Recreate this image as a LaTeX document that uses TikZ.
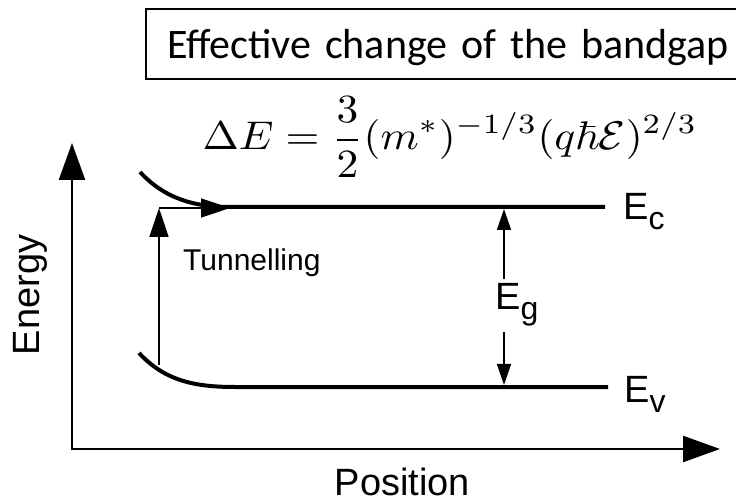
\documentclass[tikz,border=0pt]{standalone}
\usepackage{amsmath,amssymb}
\usepackage{graphicx}
\usepackage[no-math]{fontspec}
\setmainfont{Liberation Sans}
\newfontfamily\titlefont{Carlito}
\usetikzlibrary{arrows.meta,positioning}

\newcommand{\bandlabel}[1]{E\raisebox{-10pt}{\fontsize{32}{32}\selectfont #1}}

\begin{document}
\begin{tikzpicture}[
    x=1pt, y=-1pt,
    axis/.style={line width=2.4pt, {Triangle[length=37pt, width=26pt]}-{Triangle[length=37pt, width=26pt]}},
    band/.style={line width=4pt},
    tunarrow/.style={line width=1.8pt, -{Triangle[length=29pt, width=19pt]}},
    gaparrow/.style={line width=1.6pt, -{Triangle[length=21pt, width=14pt]}},
    label/.style={font=\fontsize{38}{40}\selectfont, inner sep=0pt}
]
\useasboundingbox (0,0) rectangle (736,502);

\node[draw, line width=2pt, font=\titlefont\fontsize{42}{48}\selectfont, text width=620pt, inner xsep=21pt, align=left, text height=30pt, text depth=0pt, minimum height=70pt, anchor=west] (title) at (145,44) {Effective change of the bandgap};
\node[anchor=base] (formula) at (450,150) {\scalebox{4.35}[4]{$\displaystyle \Delta E=\frac{3}{2}(m^*)^{-1/3}(q\hbar\mathcal{E})^{2/3}$}};

\coordinate (origin) at (72,449);
\coordinate (ytip) at (72,143);
\coordinate (xtip) at (720,449);
\draw[axis] (ytip) -- (origin) -- (xtip);

\node[label, rotate=90, anchor=base] (energy) at (39,295) {Energy};
\node[label, anchor=base] (position) at (402.5,495) {Position};

\node[label, anchor=base west] (ec) at (623,220) {\bandlabel{c}};
\node[label, anchor=base west] (ev) at (624,402) {\bandlabel{v}};
\node[label, anchor=base west, inner ysep=5pt] (eg) at (495,310) {\bandlabel{g}};
\node[label, font=\fontsize{30}{32}\selectfont, anchor=base west] (tunnel) at (183,271) {Tunnelling};

\coordinate (ecstart) at (140,172);
\coordinate (ecflat) at (230,207);
\coordinate (evstart) at (139,353);
\coordinate (evflat) at (235,387);
\draw[band, shorten >=18pt] (ecstart) .. controls (165,199) and (195,207) .. (ecflat) -- (ecflat -| ec.west);
\draw[band, shorten >=16pt] (evstart) .. controls (165,381) and (195,387) .. (evflat) -- (evflat -| ev.west);

\coordinate (tunbottom) at (159,365);
\coordinate (tuntop) at (159,208);
\coordinate (tunend) at (230,208);
\draw[tunarrow] (tunbottom) -- (tuntop);
\draw[tunarrow] (tuntop) -- (tunend);

\coordinate (gaptop) at (504,209);
\coordinate (gapbottom) at (504,385);
\draw[gaparrow] (gaptop |- eg.north) -- (gaptop);
\draw[gaparrow] (gapbottom |- eg.south) -- (gapbottom);
\end{tikzpicture}
\end{document}
